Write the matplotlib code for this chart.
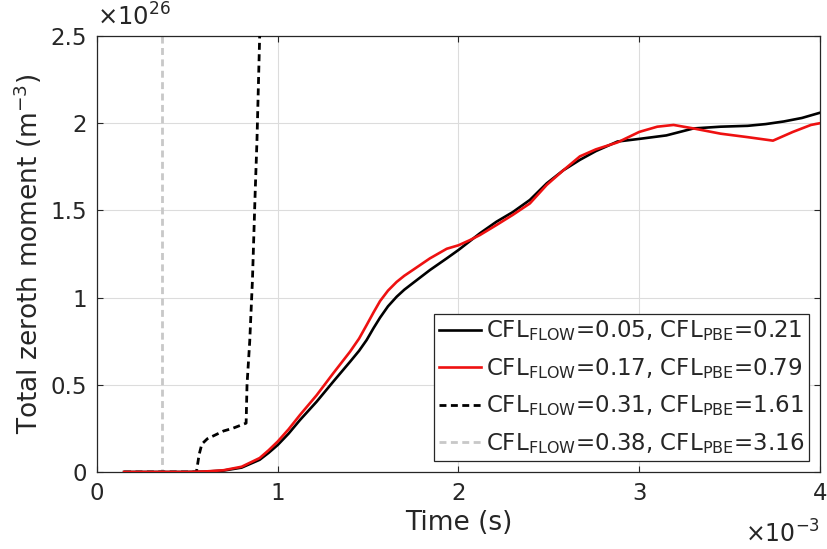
import numpy as np
import matplotlib
matplotlib.use("Agg")
import matplotlib.pyplot as plt
from matplotlib.ticker import FuncFormatter

plt.rcParams['font.family'] = ['DejaVu Sans']
plt.rcParams['mathtext.default'] = 'regular'

# time in units of 1e-3 s, moment in units of 1e26 m^-3
t_black = [0.15, 0.3, 0.5, 0.6, 0.7, 0.8, 0.9, 0.95, 1.0, 1.06, 1.123, 1.215, 1.307, 1.4, 1.45, 1.492,
           1.53, 1.566, 1.61, 1.658, 1.7, 1.75, 1.842, 1.935, 2.0, 2.119, 2.21, 2.3, 2.395, 2.488, 2.58, 2.672,
           2.76, 2.88, 3.0, 3.15, 3.3, 3.45, 3.6, 3.7, 3.8, 3.9, 4.0]
m_black = [0.0, 0.0, 0.0, 0.002, 0.008, 0.025, 0.07, 0.11, 0.155, 0.22, 0.298, 0.403, 0.518, 0.632, 0.695, 0.757,
           0.825, 0.885, 0.95, 1.005, 1.045, 1.085, 1.158, 1.225, 1.273, 1.369, 1.435, 1.49, 1.56, 1.655, 1.73, 1.79,
           1.84, 1.895, 1.91, 1.93, 1.97, 1.98, 1.985, 1.995, 2.01, 2.03, 2.06]

t_red = [0.15, 0.3, 0.5, 0.6, 0.7, 0.8, 0.9, 0.95, 1.0, 1.06, 1.123, 1.215, 1.307, 1.4, 1.45, 1.492,
         1.53, 1.566, 1.61, 1.658, 1.7, 1.75, 1.842, 1.935, 2.0, 2.064, 2.119, 2.21, 2.3, 2.395, 2.488, 2.58, 2.672,
         2.76, 2.88, 3.0, 3.1, 3.19, 3.3, 3.45, 3.6, 3.74, 3.85, 3.95, 4.0]
m_red = [0.0, 0.0, 0.0, 0.003, 0.01, 0.03, 0.08, 0.125, 0.175, 0.245, 0.327, 0.44, 0.566, 0.69, 0.765, 0.843,
         0.915, 0.98, 1.04, 1.09, 1.125, 1.16, 1.225, 1.28, 1.30, 1.33, 1.359, 1.416, 1.474, 1.54, 1.646, 1.73, 1.81,
         1.85, 1.89, 1.95, 1.98, 1.99, 1.97, 1.94, 1.92, 1.90, 1.95, 1.99, 2.0]

t_dash = [0.15, 0.55, 0.565, 0.58, 0.61, 0.65, 0.7, 0.75, 0.8, 0.825, 0.83, 0.845, 0.86, 0.875, 0.885, 0.895, 0.905]
m_dash = [0.0, 0.0, 0.1, 0.16, 0.19, 0.21, 0.235, 0.25, 0.27, 0.28, 0.5, 0.75, 1.1, 1.6, 1.9, 2.3, 2.7]

t_gray = [0.15, 0.36, 0.36]
m_gray = [0.0, 0.0, 3.0]

labels = [r'CFL$_{FLOW}$=0.05, CFL$_{PBE}$=0.21',
          r'CFL$_{FLOW}$=0.17, CFL$_{PBE}$=0.79',
          r'CFL$_{FLOW}$=0.31, CFL$_{PBE}$=1.61',
          r'CFL$_{FLOW}$=0.38, CFL$_{PBE}$=3.16']

xticks = [0, 1, 2, 3, 4]
yticks = [0, 0.5, 1, 1.5, 2, 2.5]

dark = '#262626'
fs = 16.5
fl = 19
fig = plt.figure(figsize=(8.27, 5.49), dpi=100)
ax = fig.add_axes([0.1173, 0.1403, 0.8742, 0.7941])

ax.plot(t_black, m_black, color='black', lw=1.9, label=labels[0], zorder=4)
ax.plot(t_red, m_red, color='#ee1111', lw=1.9, label=labels[1], zorder=5)
ax.plot(t_dash, m_dash, color='black', lw=2.0, dashes=(2.5, 1.6), label=labels[2], zorder=3)
ax.plot(t_gray, m_gray, color='#c8c8c8', lw=2.0, dashes=(2.5, 1.6), label=labels[3], zorder=2)

ax.set_xlim(0, 4)
ax.set_ylim(0, 2.5)
ax.set_xticks(xticks)
ax.set_yticks(yticks)
fmt = FuncFormatter(lambda v, p: '%g' % v)
ax.xaxis.set_major_formatter(fmt)
ax.yaxis.set_major_formatter(fmt)
ax.tick_params(direction='in', top=True, right=True, labelsize=fs, colors=dark, length=4, width=0.8, pad=7)
ax.grid(True, color='#dcdcdc', lw=0.8)
ax.set_axisbelow(True)
for s in ax.spines.values():
    s.set_color(dark)
    s.set_linewidth(0.9)

ax.set_xlabel('Time (s)', fontsize=fl, color=dark, labelpad=4)
ax.set_ylabel('Total zeroth moment (m$^{-3}$)', fontsize=fl, color=dark, labelpad=5)

ax.text(0.0, 1.012, r'$\times$10$^{26}$', transform=ax.transAxes, fontsize=17.5, color=dark,
        ha='left', va='bottom')
ax.text(1.0, -0.162, r'$\times$10$^{-3}$', transform=ax.transAxes, fontsize=17, color=dark,
        ha='right', va='baseline')

leg = ax.legend(loc='lower right', fontsize=fs, handlelength=1.85, handletextpad=0.2,
                borderpad=0.2, labelspacing=0.55, fancybox=False, framealpha=1,
                borderaxespad=0.5)
leg.get_frame().set_edgecolor(dark)
leg.get_frame().set_linewidth(0.9)
for txt in leg.get_texts():
    txt.set_color(dark)

fig.savefig('out.png', dpi=100)
